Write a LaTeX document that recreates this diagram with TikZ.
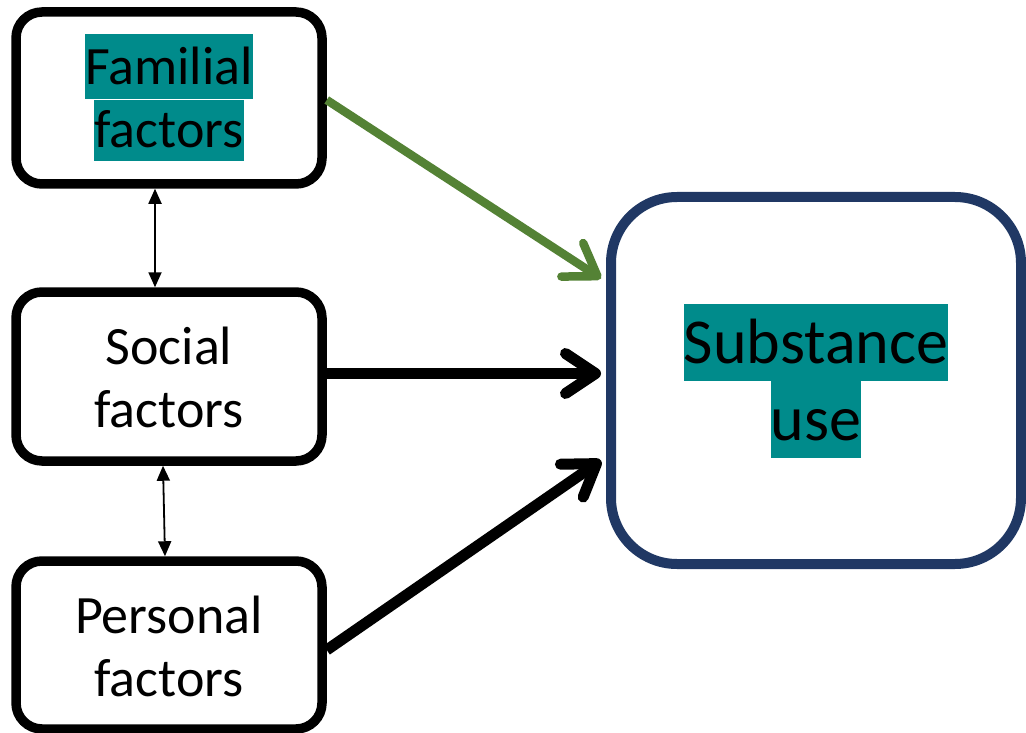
\documentclass[tikz,border=0pt]{standalone}
\usepackage{fontspec}
\setmainfont{Carlito}
\usetikzlibrary{arrows.meta}
\definecolor{hlteal}{HTML}{008B8B}
\definecolor{linkgreen}{HTML}{548235}
\definecolor{outnavy}{HTML}{203864}
\newcommand{\hltext}[3]{{\setlength{\fboxsep}{0pt}\colorbox{hlteal}{\vrule width 0pt height #2 depth #3#1}}}
\newcommand{\plain}[1]{\vrule width 0pt height 51pt depth 12pt#1}
\begin{document}
\begin{tikzpicture}[x=1pt, y=-1pt,
    factorbox/.style={draw, rectangle, rounded corners=26pt, line width=9.5pt,
      minimum width=306pt, align=center, inner sep=0pt,
      font=\fontsize{54pt}{63pt}\selectfont},
    outcomebox/.style={draw=outnavy, rectangle, rounded corners=66pt, line width=10pt,
      minimum width=410pt, minimum height=367pt, align=center, inner sep=0pt,
      font=\fontsize{64pt}{77pt}\selectfont},
    bigarrow/.style={line width=11pt, -{Straight Barb[length=30pt, width=40pt, round]}},
    twoway/.style={line width=1.8pt, {Triangle[length=15pt, width=13pt]}-{Triangle[length=15pt, width=13pt]}}]
    \useasboundingbox (0,0) rectangle (1026,733);
    \node[factorbox, minimum height=172pt] (fam) at (169,98)
      {\hltext{Familial}{50pt}{15pt}\\\hltext{factors}{48pt}{14pt}};
    \node[factorbox, minimum height=169pt] (soc) at (169,376.5)
      {\plain{Social}\\\plain{factors}};
    \node[factorbox, minimum height=168pt] (per) at (169,645)
      {\plain{Personal}\\\plain{factors}};
    \node[outcomebox] (sub) at (816,380.5)
      {\hltext{Substance}{60pt}{17pt}\\\hltext{use}{60pt}{17pt}};
    % links into the outcome
    \draw[bigarrow, linkgreen, line width=8.5pt] ([yshift=-2pt]fam.east) -- ([xshift=-5pt, yshift=102pt]sub.west);
    \draw[bigarrow] ([yshift=3pt]soc.east) -- ([xshift=-5pt, yshift=7pt]sub.west);
    \draw[bigarrow] ([yshift=-5pt]per.east) -- ([xshift=-5pt, yshift=-80pt]sub.west);
    % links between the factors
    \draw[twoway] ([xshift=-14pt]fam.south) -- ([xshift=-14pt]soc.north);
    \draw[twoway] ([xshift=-6pt]soc.south) -- ([xshift=-4pt]per.north);
\end{tikzpicture}
\end{document}
